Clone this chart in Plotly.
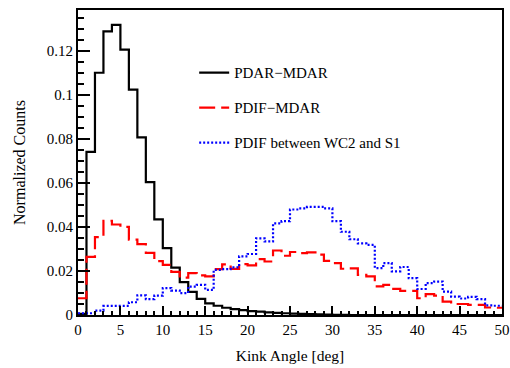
import plotly.graph_objects as go

# Bin lower edges (1 deg bins from 0 to 50)
bin_lo = list(range(0, 50))
bin_hi_last = 50

pdar_mdar = [0.0005, 0.0741, 0.1100, 0.1288, 0.1317, 0.1205, 0.1023, 0.0807, 0.0603, 0.0434,
             0.0304, 0.0215, 0.0149, 0.0105, 0.0073, 0.0053, 0.0042, 0.0033, 0.0027, 0.0022,
             0.0018, 0.0015, 0.0012, 0.0010, 0.0008, 0.0006, 0.0005, 0.0004, 0.0003, 0.0002,
             0.0001, 0.0001, 0.0, 0.0, 0.0, 0.0, 0.0, 0.0, 0.0, 0.0,
             0.0, 0.0, 0.0, 0.0, 0.0, 0.0, 0.0, 0.0, 0.0, 0.0]

pdif_mdar = [0.0076, 0.0264, 0.0354, 0.0428, 0.0411, 0.0400, 0.0342, 0.0322, 0.0282, 0.0245,
             0.0228, 0.0196, 0.0170, 0.0190, 0.0180, 0.0175, 0.0208, 0.0230, 0.0209, 0.0231,
             0.0225, 0.0254, 0.0243, 0.0293, 0.0269, 0.0286, 0.0281, 0.0284, 0.0274, 0.0246,
             0.0236, 0.0210, 0.0212, 0.0182, 0.0175, 0.0130, 0.0137, 0.0119, 0.0110, 0.0110,
             0.0076, 0.0095, 0.0088, 0.0061, 0.0050, 0.0050, 0.0046, 0.0046, 0.0034, 0.0033]

pdif_wc2_s1 = [0.0008, 0.0008, 0.0020, 0.0041, 0.0041, 0.0041, 0.0058, 0.0089, 0.0072, 0.0088,
               0.0122, 0.0111, 0.0099, 0.0129, 0.0137, 0.0114, 0.0205, 0.0208, 0.0216, 0.0266,
               0.0277, 0.0348, 0.0334, 0.0416, 0.0426, 0.0479, 0.0484, 0.0491, 0.0491, 0.0484,
               0.0426, 0.0378, 0.0344, 0.0325, 0.0318, 0.0213, 0.0236, 0.0198, 0.0218, 0.0167,
               0.0118, 0.0145, 0.0152, 0.0106, 0.0083, 0.0075, 0.0082, 0.0072, 0.0044, 0.0042]

series_names = ["PDAR\u2212MDAR", "PDIF\u2212MDAR", "PDIF between WC2 and S1"]
x_tick_vals = [0, 5, 10, 15, 20, 25, 30, 35, 40, 45, 50]
y_tick_vals = [0, 0.02, 0.04, 0.06, 0.08, 0.1, 0.12]
y_tick_text = ["0", "0.02", "0.04", "0.06", "0.08", "0.1", "0.12"]

FONT = "Liberation Serif, Times New Roman, serif"

edges = bin_lo + [bin_hi_last]

def steps(vals):
    return list(vals) + [vals[-1]]

fig = go.Figure()
styles = [
    dict(color="#000000", width=2.2, dash="solid"),
    dict(color="#ff0000", width=2.2, dash="16px,6px"),
    dict(color="#0000ff", width=2.2, dash="2px,2px"),
]
for i, (name, vals) in enumerate(zip(series_names, [pdar_mdar, pdif_mdar, pdif_wc2_s1])):
    fig.add_trace(go.Scatter(
        x=edges, y=steps(vals), mode="lines", name=name,
        line=dict(shape="hv", **styles[i]),
        legendgroup=f"g{i}", cliponaxis=True,
    ))

fig.update_layout(
    width=510, height=368,
    margin=dict(l=78, r=8, t=10, b=53, autoexpand=False),
    paper_bgcolor="white", plot_bgcolor="white",
    font=dict(family=FONT, size=15, color="black"),
    showlegend=True,
    legend=dict(x=0.274, y=0.848, xanchor="left", yanchor="top",
                bgcolor="rgba(0,0,0,0)", borderwidth=0,
                font=dict(family=FONT, size=15, color="black"),
                tracegroupgap=12.5),
    xaxis=dict(
        range=[0, 50], tickvals=x_tick_vals, ticks="inside", ticklen=9, tickwidth=1.5,
        tickcolor="black", showline=True, linecolor="black", linewidth=2, mirror=True,
        showgrid=False, zeroline=False, automargin=False,
        minor=dict(dtick=1, ticks="inside", ticklen=4.5, tickwidth=1.5, tickcolor="black", showgrid=False),
        title=dict(text="Kink Angle [deg]", font=dict(family=FONT, size=15.5), standoff=13),
        tickfont=dict(family=FONT, size=15),
    ),
    yaxis=dict(
        range=[0, 0.1385], tickvals=y_tick_vals, ticktext=y_tick_text, ticks="inside", ticklen=12,
        tickwidth=1.5, tickcolor="black", showline=True, linecolor="black", linewidth=2, mirror=True,
        showgrid=False, zeroline=False, automargin=False,
        minor=dict(dtick=0.005, ticks="inside", ticklen=6, tickwidth=1.5, tickcolor="black", showgrid=False),
        title=dict(text="Normalized Counts", font=dict(family=FONT, size=16), standoff=17),
        tickfont=dict(family=FONT, size=15),
    ),
)

fig.write_html("out.html")
